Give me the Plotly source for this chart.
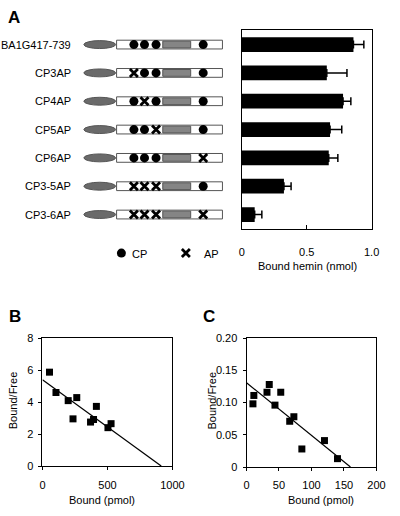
import plotly.graph_objects as go

# ---------------- data ----------------
constructs = ["BA1G417-739", "CP3AP", "CP4AP", "CP5AP", "CP6AP", "CP3-5AP", "CP3-6AP"]
# state of the four sites (CP3, CP4, CP5, CP6): C = CP motif kept, A = mutated to AP
site_states = ["CCCC", "ACCC", "CACC", "CCAC", "CCCA", "AAAC", "AAAA"]
hemin_bound = [0.86, 0.655, 0.78, 0.68, 0.67, 0.325, 0.10]
hemin_err = [0.08, 0.155, 0.06, 0.09, 0.07, 0.055, 0.055]
bar_tickvals = [0, 0.5, 1.0]
bar_ticktext = ["0", "0.5", "1.0"]

b_bound = [54, 104, 198, 264, 235, 370, 393, 415, 504, 528]
b_ratio = [5.87, 4.6, 4.09, 4.28, 2.95, 2.75, 2.91, 3.73, 2.40, 2.65]
b_fit_x = [0, 914]
b_fit_y = [5.4, 0]
b_xticks = [0, 500, 1000]
b_yticks = [0, 2, 4, 6, 8]

c_bound = [9.9, 11.3, 31.5, 35, 43.8, 52.7, 66.5, 72.9, 85.2, 120, 140]
c_ratio = [0.098, 0.111, 0.116, 0.128, 0.096, 0.116, 0.071, 0.078, 0.028, 0.041, 0.013]
c_fit_x = [0, 160]
c_fit_y = [0.1307, 0]
c_xticks = [0, 50, 100, 150, 200]
c_yticks = [0, 0.05, 0.10, 0.15, 0.20]
c_yticktext = ["0", "0.05", "0.10", "0.15", "0.20"]

# ---------------- layout constants ----------------
W, H = 400, 516
FONT = "Liberation Sans, Arial, sans-serif"
ELL = (84, 117)
RECT = (118, 228)
GRAY = (166, 195)
SITE_X = [136, 147, 159, 208]
LABEL_X = 73
LEGEND_Y = 7.36


def fx(px):
    return px / W


def fy(py):
    return 1 - py / H


fig = go.Figure()

# ---- Panel A: bar chart ----
fig.add_trace(go.Bar(
    x=hemin_bound, y=list(range(len(constructs))), orientation="h",
    marker=dict(color="black", line=dict(width=0)), width=0.52,
    error_x=dict(type="data", array=hemin_err, arrayminus=[0] * len(hemin_err),
                 symmetric=False, color="black", thickness=1.5, width=4),
    xaxis="x", yaxis="y", hoverinfo="skip"))

# ---- Panel A: construct diagrams ----
shapes = []
for i, st in enumerate(site_states):
    shapes.append(dict(type="circle", xref="x2", yref="y2", x0=ELL[0], x1=ELL[1],
                       y0=i - 0.14, y1=i + 0.14, fillcolor="#6a6a6a",
                       line=dict(color="#555555", width=1), layer="below"))
    shapes.append(dict(type="rect", xref="x2", yref="y2", x0=RECT[0], x1=RECT[1],
                       y0=i - 0.155, y1=i + 0.155, fillcolor="white",
                       line=dict(color="#555555", width=1), layer="below"))
    shapes.append(dict(type="rect", xref="x2", yref="y2", x0=GRAY[0], x1=GRAY[1],
                       y0=i - 0.12, y1=i + 0.12, fillcolor="#858585",
                       line=dict(color="#555555", width=1), layer="below"))

cx, cy, ax_, ay_ = [], [], [], []
for i, st in enumerate(site_states):
    for j, s in enumerate(st):
        if s == "C":
            cx.append(SITE_X[j]); cy.append(i)
        else:
            ax_.append(SITE_X[j]); ay_.append(i)
# legend symbols
cx.append(123); cy.append(LEGEND_Y)
ax_.append(190); ay_.append(LEGEND_Y)

fig.add_trace(go.Scatter(x=cx, y=cy, mode="markers", xaxis="x2", yaxis="y2",
                         marker=dict(symbol="circle", size=9, color="black"),
                         hoverinfo="skip", cliponaxis=False))
fig.add_trace(go.Scatter(x=ax_, y=ay_, mode="markers", xaxis="x2", yaxis="y2",
                         marker=dict(symbol="x-thin", size=8,
                                     line=dict(color="black", width=2.8)),
                         hoverinfo="skip", cliponaxis=False))

# ---- Panel B ----
fig.add_trace(go.Scatter(x=b_fit_x, y=b_fit_y, mode="lines", xaxis="x3", yaxis="y3",
                         line=dict(color="black", width=1.2), hoverinfo="skip"))
fig.add_trace(go.Scatter(x=b_bound, y=b_ratio, mode="markers", xaxis="x3", yaxis="y3",
                         marker=dict(symbol="square", size=7, color="black"),
                         hoverinfo="skip", cliponaxis=False))

# ---- Panel C ----
fig.add_trace(go.Scatter(x=c_fit_x, y=c_fit_y, mode="lines", xaxis="x4", yaxis="y4",
                         line=dict(color="black", width=1.2), hoverinfo="skip"))
fig.add_trace(go.Scatter(x=c_bound, y=c_ratio, mode="markers", xaxis="x4", yaxis="y4",
                         marker=dict(symbol="square", size=7, color="black"),
                         hoverinfo="skip", cliponaxis=False))

tickfont = dict(family=FONT, size=11, color="black")
box = dict(showline=True, linecolor="black", linewidth=1, mirror=True,
           showgrid=False, zeroline=False, tickfont=tickfont)

annotations = []
for i, name in enumerate(constructs):
    annotations.append(dict(text=name, x=LABEL_X, y=i, xref="x2", yref="y2",
                            xanchor="right", yanchor="middle", showarrow=False,
                            font=dict(family=FONT, size=11, color="black")))
annotations += [
    dict(text="CP", x=132, y=LEGEND_Y + 0.05, xref="x2", yref="y2", xanchor="left",
         yanchor="middle", showarrow=False, font=dict(family=FONT, size=11, color="black")),
    dict(text="AP", x=207, y=LEGEND_Y + 0.05, xref="x2", yref="y2", xanchor="left",
         yanchor="middle", showarrow=False, font=dict(family=FONT, size=11, color="black")),
    dict(text="<b>A</b>", x=fx(3), y=fy(12), xref="paper", yref="paper", xanchor="left",
         yanchor="middle", showarrow=False, font=dict(family=FONT, size=17, color="black")),
    dict(text="<b>B</b>", x=fx(4), y=fy(318), xref="paper", yref="paper", xanchor="left",
         yanchor="middle", showarrow=False, font=dict(family=FONT, size=17, color="black")),
    dict(text="<b>C</b>", x=fx(206), y=fy(318), xref="paper", yref="paper", xanchor="left",
         yanchor="middle", showarrow=False, font=dict(family=FONT, size=17, color="black")),
    dict(text="Bound hemin (nmol)", x=fx(316), y=fy(266), xref="paper", yref="paper",
         xanchor="center", yanchor="middle", showarrow=False,
         font=dict(family=FONT, size=11, color="black")),
    dict(text="Bound (pmol)", x=fx(103), y=fy(506), xref="paper", yref="paper",
         xanchor="center", yanchor="middle", showarrow=False,
         font=dict(family=FONT, size=11, color="black")),
    dict(text="Bound (pmol)", x=fx(330), y=fy(506), xref="paper", yref="paper",
         xanchor="center", yanchor="middle", showarrow=False,
         font=dict(family=FONT, size=11, color="black")),
    dict(text="Bound/Free", x=fx(10), y=fy(404), xref="paper", yref="paper",
         xanchor="center", yanchor="middle", showarrow=False, textangle=-90,
         font=dict(family=FONT, size=11, color="black")),
    dict(text="Bound/Free", x=fx(217), y=fy(404), xref="paper", yref="paper",
         xanchor="center", yanchor="middle", showarrow=False, textangle=-90,
         font=dict(family=FONT, size=11, color="black")),
]

n = len(constructs)
fig.update_layout(
    width=W, height=H, autosize=False, margin=dict(l=0, r=0, t=0, b=0),
    plot_bgcolor="white", paper_bgcolor="white", showlegend=False,
    font=dict(family=FONT, size=11, color="black"),
    shapes=shapes, annotations=annotations,
    xaxis=dict(domain=[fx(248), fx(383)], range=[0, 1.0], anchor="y",
               tickvals=bar_tickvals, ticktext=bar_ticktext,
               ticks="inside", ticklen=4, tickcolor="black", ticklabelstandoff=13, **box),
    yaxis=dict(domain=[fy(228), fy(25)], range=[n - 0.5, -0.5], anchor="x",
               showticklabels=False, ticks="", **box),
    xaxis2=dict(domain=[0, fx(240)], range=[0, 240], anchor="y2", visible=False),
    yaxis2=dict(domain=[fy(270), fy(25)], range=[(270 - 25) / 29 - 0.5, -0.5],
                anchor="x2", visible=False),
    xaxis3=dict(domain=[fx(41), fx(176)], range=[0, 1000], anchor="y3",
                tickvals=b_xticks, ticks="outside", ticklen=3, tickcolor="black",
                ticklabelstandoff=6, **box),
    yaxis3=dict(domain=[fy(471), fy(340)], range=[0, 8], anchor="x3",
                tickvals=b_yticks, ticks="outside", ticklen=3, tickcolor="black",
                ticklabelstandoff=3, **box),
    xaxis4=dict(domain=[fx(253), fx(388)], range=[0, 200], anchor="y4",
                tickvals=c_xticks, ticks="outside", ticklen=3, tickcolor="black",
                ticklabelstandoff=5, **box),
    yaxis4=dict(domain=[fy(472), fy(340)], range=[0, 0.20], anchor="x4",
                tickvals=c_yticks, ticktext=c_yticktext, ticks="outside", ticklen=3,
                tickcolor="black", ticklabelstandoff=3, **box),
)

fig.write_html("out.html", config={"responsive": False, "displayModeBar": False},
               post_script="document.body.style.margin='0';document.body.style.overflow='hidden';")
